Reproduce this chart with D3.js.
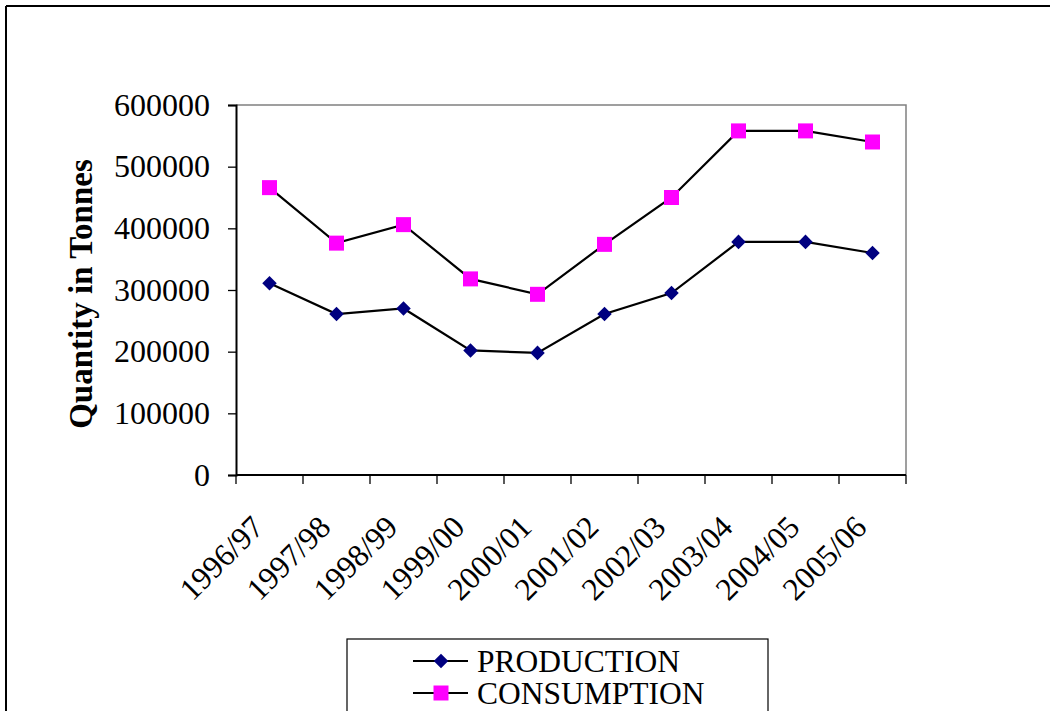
<!DOCTYPE html>
<html>
<head>
<meta charset="utf-8">
<script src="https://cdn.jsdelivr.net/npm/d3@7"></script>
<style>
  html, body { margin: 0; padding: 0; background: #fff; }
  svg { display: block; }
  text { font-family: "Liberation Serif", "Times New Roman", serif; fill: #000; }
</style>
</head>
<body>
<svg id="chart" width="1050" height="711"></svg>
<script>
// Marketing years on the category axis
const years = ["1996/97", "1997/98", "1998/99", "1999/00", "2000/01",
               "2001/02", "2002/03", "2003/04", "2004/05", "2005/06"];
// Quantities in tonnes
const production  = [311000, 261000, 270000, 202000, 198000, 261000, 295000, 378000, 378000, 360000];
const consumption = [466000, 376000, 406000, 318000, 293000, 374000, 450000, 558000, 558000, 540000];
const yTicks = [0, 100000, 200000, 300000, 400000, 500000, 600000];
const seriesNames = ["PRODUCTION", "CONSUMPTION"];

const svg = d3.select("#chart");

// Outer frame (top and left edges visible)
svg.append("line").attr("x1", 6).attr("x2", 1050).attr("y1", 6).attr("y2", 6)
  .attr("stroke", "#000").attr("stroke-width", 2);
svg.append("line").attr("x1", 6).attr("x2", 6).attr("y1", 6).attr("y2", 711)
  .attr("stroke", "#000").attr("stroke-width", 2);

const plot = { left: 236, right: 906, top: 105, bottom: 475 };

const x = d3.scaleBand().domain(years).range([plot.left, plot.right]);
const y = d3.scaleLinear().domain([0, 600000]).range([plot.bottom, plot.top]);

// Plot area border: top and right in grey
svg.append("path")
  .attr("d", `M${plot.left},${plot.top}H${plot.right}V${plot.bottom}`)
  .attr("fill", "none").attr("stroke", "#808080").attr("stroke-width", 1.5);

// Y axis
const yAxis = svg.append("g")
  .attr("transform", `translate(${plot.left},0)`)
  .call(d3.axisLeft(y).tickValues(yTicks).tickFormat(d3.format("d")).tickSize(8).tickPadding(18));
yAxis.select(".domain").attr("stroke", "#000").attr("stroke-width", 2);
yAxis.selectAll(".tick line").attr("stroke", "#000").attr("stroke-width", 1.3);
yAxis.selectAll(".tick text")
  .attr("font-family", "Liberation Serif, Times New Roman, serif")
  .attr("font-size", 32).attr("fill", "#000");

// X axis: ticks at category boundaries
const boundaries = years.map(d => x(d)).concat([plot.right]);
svg.append("line").attr("x1", plot.left).attr("x2", plot.right)
  .attr("y1", plot.bottom).attr("y2", plot.bottom)
  .attr("stroke", "#000").attr("stroke-width", 2);
svg.append("g").selectAll("line").data(boundaries).join("line")
  .attr("x1", d => d).attr("x2", d => d)
  .attr("y1", plot.bottom).attr("y2", plot.bottom + 9)
  .attr("stroke", "#000").attr("stroke-width", 1.3);

svg.append("g").selectAll("text").data(years).join("text")
  .attr("transform", d => `translate(${x(d) + x.bandwidth() / 2 - 4},${plot.bottom + 54}) rotate(-45)`)
  .attr("text-anchor", "end")
  .attr("font-size", 31.5)
  .text(d => d);

// Y axis title
svg.append("text")
  .attr("transform", `translate(92,294) rotate(-90)`)
  .attr("text-anchor", "middle")
  .attr("font-size", 33).attr("font-weight", "bold")
  .text("Quantity in Tonnes");

const cx = d => x(d) + x.bandwidth() / 2;
const line = d3.line().x((d, i) => cx(years[i])).y(d => y(d));

const diamond = d3.symbol().type(d3.symbolDiamond2).size(135);
const square = d3.symbol().type(d3.symbolSquare).size(225);

function drawSeries(values, sym, color) {
  svg.append("path").datum(values)
    .attr("d", line).attr("fill", "none")
    .attr("stroke", "#000").attr("stroke-width", 2.2);
  svg.append("g").selectAll("path").data(values).join("path")
    .attr("d", sym)
    .attr("transform", (d, i) => `translate(${cx(years[i])},${y(d)})`)
    .attr("fill", color);
}
drawSeries(production, diamond, "#000080");
drawSeries(consumption, square, "#FF00FF");

// Legend
const lg = svg.append("g");
lg.append("rect").attr("x", 347).attr("y", 639).attr("width", 421).attr("height", 90)
  .attr("fill", "#fff").attr("stroke", "#000").attr("stroke-width", 1.2);
const items = [
  { name: seriesNames[0], sym: diamond, color: "#000080" },
  { name: seriesNames[1], sym: square, color: "#FF00FF" }
];
items.forEach((it, i) => {
  const cy = 661 + i * 32;
  lg.append("line").attr("x1", 413).attr("x2", 468).attr("y1", cy).attr("y2", cy)
    .attr("stroke", "#000").attr("stroke-width", 2.2);
  lg.append("path").attr("d", it.sym).attr("transform", `translate(441,${cy})`).attr("fill", it.color);
  lg.append("text").attr("x", 477).attr("y", cy + 11).attr("font-size", 31.5).text(it.name);
});
</script>
</body>
</html>
